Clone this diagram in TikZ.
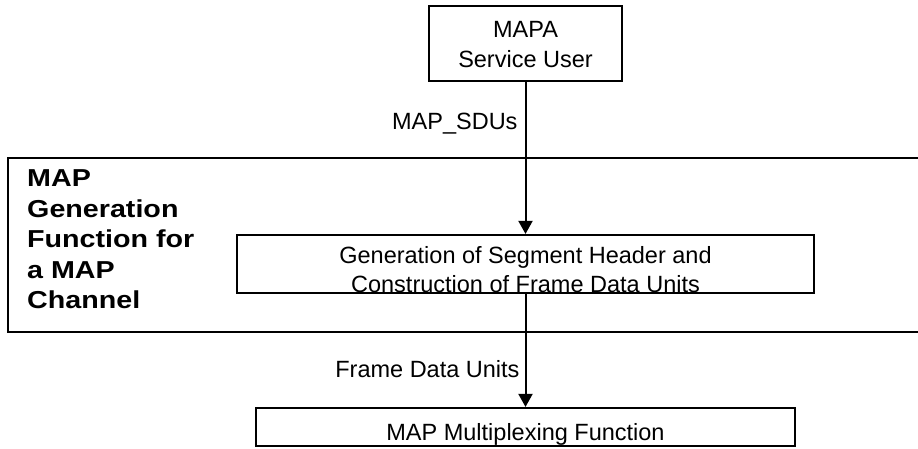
\documentclass[tikz,border=0pt]{standalone}
\usepackage{fontspec}
\setmainfont{Liberation Sans}
\newfontfamily\bandfont[FakeStretch=1.17]{Liberation Sans}
\usetikzlibrary{arrows.meta}
\begin{document}
\begin{tikzpicture}[x=1pt,y=-1pt,
  box/.style={draw, line width=2.2pt, fill=white, inner sep=0pt, rectangle},
  txt/.style={inner sep=0pt, font=\fontsize{23.5}{28}\selectfont},
  bandtxt/.style={inner sep=0pt, anchor=base west, font=\bandfont\bfseries\fontsize{24.5}{30}\selectfont},
  flow/.style={line width=2pt, -{Triangle[length=13pt,width=14pt]}},
  band/.style={line width=2pt}]
\useasboundingbox (0,0) rectangle (918,449);
% band
\draw[band] (918,158) -- (8,158) -- (8,332) -- (918,332);
\node[bandtxt] (b1) at (27,186.7) {MAP};
\node[bandtxt] (b2) at (27,217.5) {Generation};
\node[bandtxt] (b3) at (27,247.5) {Function for};
\node[bandtxt] (b4) at (27,278) {a MAP};
\node[bandtxt] (b5) at (27,308) {Channel};
% boxes
\node[box, minimum width=193pt, minimum height=75pt] (mapa) at (525.5,43.5) {};
\node[txt, anchor=base] (mapa1) at (525.5,38) {MAPA};
\node[txt, anchor=base] (mapa2) at (525.5,68) {Service User};
\node[box, minimum width=577pt, minimum height=58pt] (gen) at (525.5,264) {};
\node[txt, anchor=base] (gen1) at (525.5,263) {Generation of Segment Header and};
\node[txt, anchor=base] (gen2) at (525.5,292) {Construction of Frame Data Units};
\node[box, minimum width=539pt, minimum height=38pt] (mux) at (525.5,427) {};
\node[txt, anchor=base] (mux1) at (525.5,440) {MAP Multiplexing Function};
% connectors
\draw[flow] (mapa.south) -- node[txt, pos=0.312, anchor=base east, xshift=-7pt] (sdu) {MAP\_SDUs} (gen.north);
\draw[flow] (gen.south) -- node[txt, pos=0.739, anchor=base east, xshift=-5pt] (fdu) {Frame Data Units} (mux.north);
\end{tikzpicture}
\end{document}
